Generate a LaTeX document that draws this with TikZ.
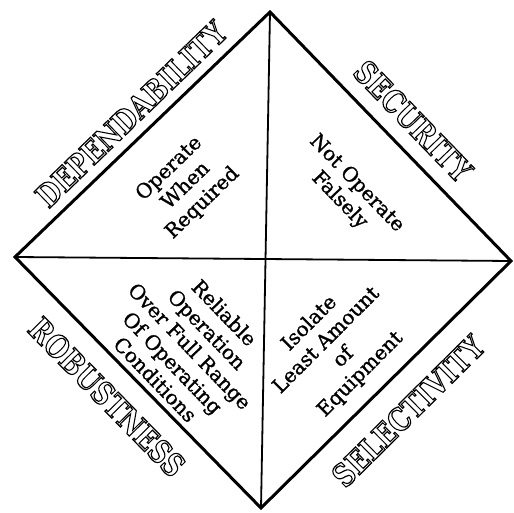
\documentclass[tikz,border=0pt]{standalone}
\usepackage{fontspec}
\setmainfont{DejaVu Serif}
\newfontfamily\innerfont[FakeBold=1.2]{DejaVu Serif}
\newcommand\outlinetext[1]{\scalebox{1}[1.2]{\special{pdf:literal direct 1 Tr 1.0 w}#1\special{pdf:literal direct 0 Tr}}}
\begin{document}
\begin{tikzpicture}[x=1pt,y=-1pt,
  edge/.style={line width=3pt, line join=miter},
  diag/.style={line width=1.8pt},
  outer/.style={font=\fontsize{26}{30}\selectfont\bfseries, inner sep=0pt},
  inner/.style={font=\innerfont\fontsize{20}{24}\selectfont, align=center, inner sep=0pt}]
\useasboundingbox (0,0) rectangle (514,513);
\coordinate (T) at (270,12);
\coordinate (R) at (511,261);
\coordinate (B) at (261,508);
\coordinate (L) at (15,257);
\draw[edge] (T) -- (R) -- (B) -- (L) -- cycle;
\draw[diag] (T) -- (B);
\draw[diag] (L) -- (R);
\node[inner, rotate=44] (q1) at (186,186) {Operate\\When\\Required};
\node[inner, rotate=-46] (q2) at (348,192) {Not Operate\\Falsely};
\node[inner, rotate=-46] (q3) at (190,346) {Reliable\\Operation\\Over Full Range\\Of Operating\\Conditions};
\node[inner, rotate=45] (q4) at (335,349) {Isolate\\Least Amount\\of\\Equipment};
\node[outer, rotate=44] (dep) at (131,114) {\outlinetext{DEPENDABILITY}};
\node[outer, rotate=-46] (sec) at (413,121) {\outlinetext{SECURITY}};
\node[outer, rotate=-45.6] (rob) at (107,397) {\outlinetext{ROBUSTNESS}};
\node[outer, rotate=44.7] (sel) at (408,411) {\outlinetext{SELECTIVITY}};
\end{tikzpicture}
\end{document}
